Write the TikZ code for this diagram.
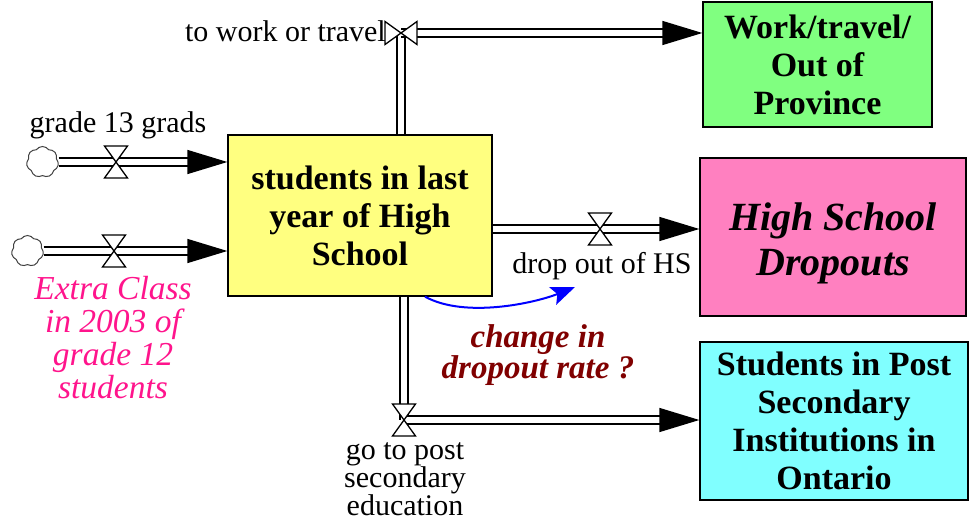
\documentclass[tikz,border=0pt]{standalone}
\usepackage{fontspec}
\setmainfont{LiberationSerif}[Extension=.ttf, UprightFont=*-Regular, BoldFont=*-Bold, ItalicFont=*-Italic, BoldItalicFont=*-BoldItalic]
\usetikzlibrary{arrows.meta,shapes.symbols}
\definecolor{stockyellow}{RGB}{255,255,128}
\definecolor{stockgreen}{RGB}{128,255,128}
\definecolor{stockpink}{RGB}{255,128,192}
\definecolor{stockcyan}{RGB}{128,255,255}
\definecolor{extrapink}{RGB}{255,20,140}
\definecolor{darkred}{RGB}{128,0,0}
\tikzset{
  stock/.style={draw, line width=1.3pt, align=center, inner sep=0pt,
    font=\bfseries\fontsize{34}{38}\selectfont},
  pipe/.style={double, double distance=6.6pt, line width=1.4pt},
  inflow/.style={pipe, -{Triangle[length=40pt,width=24pt]}},
  source/.style={cloud, cloud puffs=7, cloud puff arc=110, aspect=1, draw=black!75, line width=1pt,
    minimum width=32pt, minimum height=31pt, inner sep=0pt},
  flowlabel/.style={inner sep=0pt, align=center, font=\fontsize{30}{26.5}\selectfont},
  valve/.pic={\draw [fill=white, line width=1.3pt]
    (-11.5,-16) -- (11.5,-16) -- (-11.5,16) -- (11.5,16) -- cycle;}
}
\begin{document}
\begin{tikzpicture}[x=1pt,y=-1pt]
\useasboundingbox (0,0) rectangle (974,521);
% уровни
\node [stock, fill=stockyellow, minimum width=264pt, minimum height=161pt] (stud) at (360,215.5) {students in last\\year of High\\School};
\node [stock, fill=stockgreen, minimum width=229pt, minimum height=125pt] (work) at (817.5,64.5) {Work/travel/\\Out of\\Province};
\node [stock, fill=stockpink, minimum width=266pt, minimum height=158pt, font=\bfseries\itshape\fontsize{40}{45}\selectfont] (drop) at (833,237) {\rule{0pt}{40pt}High School\\Dropouts};
\node [stock, fill=stockcyan, minimum width=268pt, minimum height=158pt] (post) at (834,421) {Students in Post\\Secondary\\Institutions in\\Ontario};
% облака
\node [source] (src1) at (42.5,162) {};
\node [source] (src2) at (27.5,251) {};
% клапаны
\coordinate (vgrade) at (116,162);
\coordinate (vextra) at (114,251);
\coordinate (vwork) at (401,33);
\coordinate (vdrop) at (600,229);
\coordinate (vpost) at (404,420);
\coordinate (dtip) at (575,287);
% потоки
\draw [inflow] (src1.east) -- (src1.east -| stud.west);
\draw [inflow] (src2.east) -- (src2.east -| stud.west);
\draw [pipe] ([xshift=41pt]stud.north) -- (vwork);
\draw [inflow] (vwork) -- (vwork -| work.west);
\draw [inflow] (vdrop -| stud.east) -- (vdrop -| drop.west);
\draw [pipe] ([xshift=44pt]stud.south) -- (vpost);
\draw [inflow] (vpost) -- (vpost -| post.west);
\pic at (vgrade) {valve};
\pic at (vextra) {valve};
\pic [rotate=90] at (vwork) {valve};
\pic at (vdrop) {valve};
\pic at (vpost) {valve};
% связь
\draw [blue, line width=2pt, -{Stealth[length=24pt,width=19pt,inset=5pt]}] ([xshift=65pt]stud.south) .. controls +(40,22) and +(-40,16) .. (dtip);
% подписи
\node [flowlabel, anchor=base] (lgrade) at (118,133) {grade 13 grads};
\node [flowlabel, anchor=base east] (lwork) at (386,42) {to work or travel};
\node [flowlabel, anchor=base] (ldrop) at (602,273) {drop out of HS};
\node [flowlabel] (lpost) at (405,479) {go to post\\secondary\\education};
\node [inner sep=0pt, align=center, text=extrapink, font=\itshape\fontsize{33.5}{33}\selectfont] (lextra) at (113,338) {Extra Class\\in 2003 of\\grade 12\\students};
\node [inner sep=0pt, align=center, text=darkred, font=\bfseries\itshape\fontsize{33}{23}\selectfont] (lchange) at (538,355) {change in\\dropout rate ?};
\end{tikzpicture}
\end{document}
